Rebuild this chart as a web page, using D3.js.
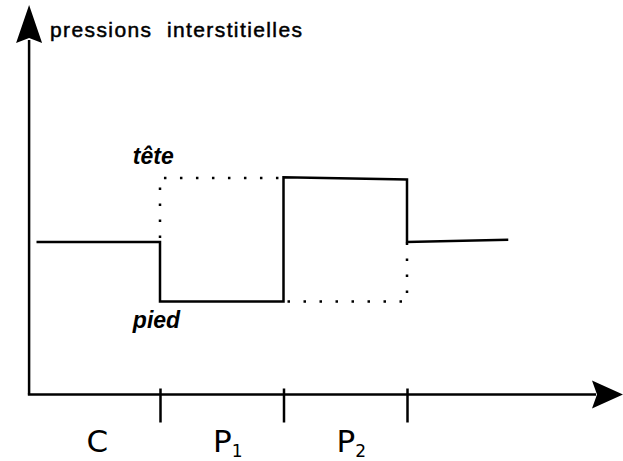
<!DOCTYPE html>
<html>
<head>
<meta charset="utf-8">
<script src="https://cdn.jsdelivr.net/npm/d3@7"></script>
<style>
  body { margin: 0; background: #fff; }
  svg text { fill: #000; }
</style>
</head>
<body>
<div id="chart"></div>
<script>
// phase boundaries on the time axis, and the phase names below it
const phaseBounds = [1, 2, 3];
const phaseMid = [0.5, 1.5, 2.5];
const phaseNames = ["C", "P", "P"];
const phaseSubs = ["", "1", "2"];

// pore pressure, solid path (measured)
const solidT = [0, 1, 1, 2, 2, 3, 3, 3.82];
const solidP = [1.0, 1.0, 0.61, 0.61, 1.425, 1.41, 1.0, 1.015];

// dotted paths : head (tête) and foot (pied)
const teteT = [1, 1, 2];
const teteP = [1.0, 1.42, 1.42];
const piedT = [2, 3, 3];
const piedP = [0.61, 0.61, 1.0];

const yTitle = "pressions  interstitielles";

const width = 623, height = 461;

// set the ranges
const x = d3.scaleLinear().domain([0, 3]).range([36.5, 407]);
const y = d3.scaleLinear().domain([0, 1]).range([394.5, 242]);

const xOrigin = x(-0.06), yOrigin = y(0);

let svg = d3.select("#chart").append("svg")
    .attr("width", width)
    .attr("height", height);

// axes lines
svg.append("line")
    .attr("x1", xOrigin).attr("y1", yOrigin)
    .attr("x2", xOrigin).attr("y2", 40)
    .attr("stroke", "#000").attr("stroke-width", 2.5);
svg.append("line")
    .attr("x1", xOrigin - 1.25).attr("y1", yOrigin)
    .attr("x2", 596).attr("y2", yOrigin)
    .attr("stroke", "#000").attr("stroke-width", 2.5);

// arrow heads
svg.append("path")
    .attr("d", `M${xOrigin},5 L${xOrigin + 13},43 L${xOrigin},38 L${xOrigin - 13},43 Z`)
    .attr("fill", "#000");
svg.append("path")
    .attr("d", `M623,${yOrigin} L592,${yOrigin - 14} L597,${yOrigin} L592,${yOrigin + 14} Z`)
    .attr("fill", "#000");

// ticks at the phase boundaries
let tickG = svg.append("g")
    .attr("transform", `translate(0, ${yOrigin - 6})`)
    .call(d3.axisBottom(x).tickValues(phaseBounds).tickSize(34).tickFormat(""));
tickG.select(".domain").remove();
tickG.selectAll("line").attr("stroke", "#000").attr("stroke-width", 2.5);

// phase labels
let labels = svg.selectAll("text.phase")
    .data(phaseMid)
    .enter()
    .append("text")
    .attr("class", "phase")
    .attr("x", (d, i) => x(d) + (phaseSubs[i] ? 6 : -1))
    .attr("y", 452)
    .attr("text-anchor", "middle")
    .style("font-family", "'DejaVu Sans', sans-serif")
    .style("font-size", "31px");
labels.append("tspan").text((d, i) => phaseNames[i]);
labels.append("tspan")
    .attr("dy", 5)
    .style("font-size", "17px")
    .text((d, i) => phaseSubs[i]);

// lines
const line = d3.line()
    .x(d => x(d[0]))
    .y(d => y(d[1]));

svg.append("path")
    .datum(solidT.map((t, i) => [t, solidP[i]]))
    .attr("d", line)
    .attr("fill", "none")
    .attr("stroke", "#000")
    .attr("stroke-width", 2.5);

[[teteT, teteP], [piedT, piedP]].forEach(function(s) {
  svg.append("path")
      .datum(s[0].map((t, i) => [t, s[1][i]]))
      .attr("d", line)
      .attr("fill", "none")
      .attr("stroke", "#000")
      .attr("stroke-width", 2.5)
      .attr("stroke-dasharray", "2.5 13.5")
      .attr("stroke-dashoffset", -4);
});

// annotations
svg.append("text")
    .attr("x", x(0.78)).attr("y", 164)
    .style("font-family", "'Liberation Sans', Arial, sans-serif")
    .style("font-style", "italic").style("font-weight", "bold")
    .style("font-size", "23px")
    .text("tête");
svg.append("text")
    .attr("x", x(0.78)).attr("y", 328)
    .style("font-family", "'Liberation Sans', Arial, sans-serif")
    .style("font-style", "italic").style("font-weight", "bold")
    .style("font-size", "23px")
    .text("pied");

// y axis title
svg.append("text")
    .attr("x", 50).attr("y", 37)
    .style("font-family", "'Liberation Sans', Arial, sans-serif")
    .style("font-size", "21px")
    .style("white-space", "pre")
    .attr("stroke", "#000").attr("stroke-width", 0.5)
    .attr("textLength", 252)
    .text(yTitle);
</script>
</body>
</html>
